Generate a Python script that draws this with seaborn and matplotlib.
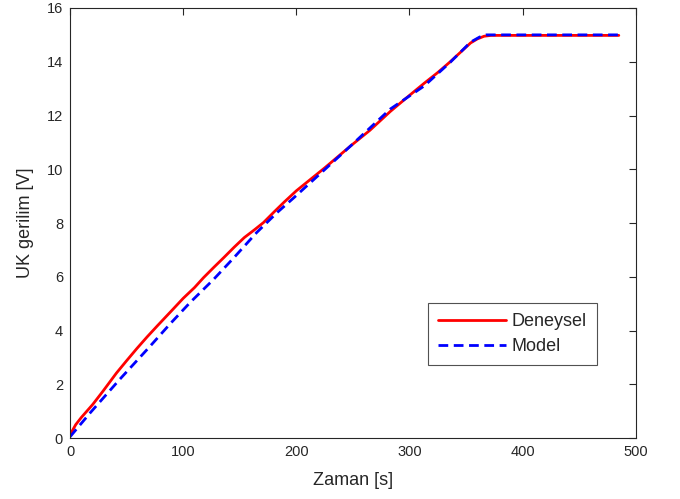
import matplotlib
matplotlib.use("Agg")
import matplotlib.pyplot as plt
import seaborn as sns
import pandas as pd

# Measured voltage (Deneysel)
t_exp = [0, 5, 10, 20, 29, 41, 50, 59, 68, 77, 90, 100, 110, 118, 127, 136, 145, 154,
         163, 171, 180, 189, 200, 225, 248, 265, 283, 300, 313, 325, 336, 345, 354,
         360, 366, 372, 380, 420, 485]
v_exp = [0.12, 0.5, 0.77, 1.25, 1.74, 2.42, 2.88, 3.33, 3.76, 4.17, 4.75, 5.2, 5.6, 5.97,
         6.35, 6.72, 7.1, 7.46, 7.75, 8.02, 8.4, 8.77, 9.2, 10.05, 10.87, 11.45, 12.15,
         12.75, 13.2, 13.6, 14.0, 14.35, 14.7, 14.85, 14.95, 14.98, 14.98, 14.98, 14.98]

# Model output (Model)
t_mod = [0, 18, 44, 71, 88, 106, 127, 145, 165, 183, 198, 248, 283, 313, 336, 354,
         362, 368, 375, 420, 485]
v_mod = [0.05, 0.95, 2.19, 3.43, 4.23, 5.04, 5.91, 6.72, 7.65, 8.39, 8.95, 10.87,
         12.24, 13.1, 13.98, 14.73, 14.92, 15.0, 15.0, 15.0, 15.0]

x_ticks = [0, 100, 200, 300, 400, 500]
y_ticks = [0, 2, 4, 6, 8, 10, 12, 14, 16]

sns.set_theme(style="white")
plt.rcParams["font.family"] = ["Liberation Sans", "DejaVu Sans"]

df = pd.concat([
    pd.DataFrame({"t": t_exp, "v": v_exp, "seri": "Deneysel"}),
    pd.DataFrame({"t": t_mod, "v": v_mod, "seri": "Model"}),
])

fig = plt.figure(figsize=(6.8, 4.99), dpi=100)
ax = fig.add_axes([0.103, 0.122, 0.832, 0.862])

sns.lineplot(data=df, x="t", y="v", hue="seri", style="seri",
             palette={"Deneysel": "#ff0000", "Model": "#0000ff"},
             dashes={"Deneysel": "", "Model": (3.5, 2)},
             linewidth=2, sort=False, estimator=None, ax=ax)

ax.set_xlim(0, 500)
ax.set_ylim(0, 16)
ax.set_xticks(x_ticks)
ax.set_yticks(y_ticks)
ax.set_xlabel("Zaman [s]", fontsize=13, labelpad=9)
ax.set_ylabel("UK gerilim [V]", fontsize=13, labelpad=9)
ax.tick_params(direction="in", length=5, width=0.8, labelsize=10.5,
               top=True, right=True, color="#262626", labelcolor="#262626", pad=5)
for s in ax.spines.values():
    s.set_color("#262626")
    s.set_linewidth(0.8)

leg = ax.legend(loc="lower right", bbox_to_anchor=(0.931, 0.17), borderaxespad=0,
                fontsize=13, frameon=True, fancybox=False, edgecolor="#262626",
                handlelength=3.8, handletextpad=0.3, borderpad=0.55, labelspacing=0.45)
leg.get_frame().set_linewidth(0.8)
leg.set_title(None)

fig.savefig("out.png", dpi=100, facecolor="white")
